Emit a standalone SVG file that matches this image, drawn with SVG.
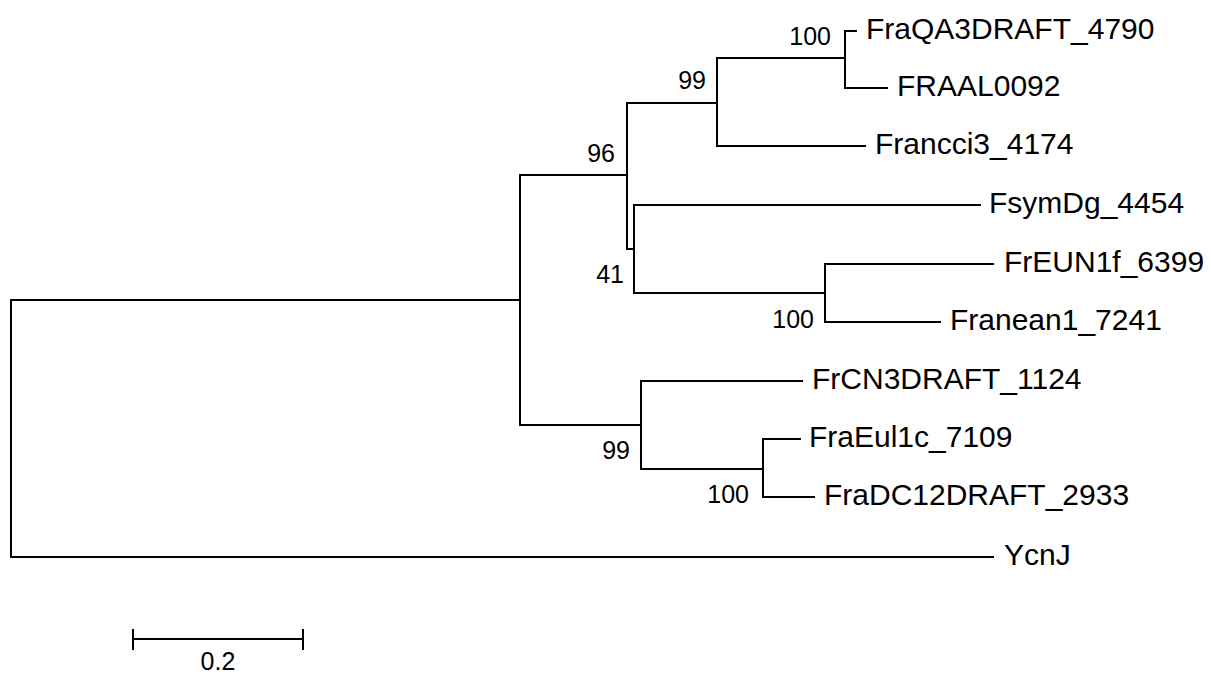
<svg xmlns="http://www.w3.org/2000/svg" width="1211" height="677" viewBox="0 0 1211 677">
<style>
.br{fill:none;stroke:#000;stroke-width:2;stroke-linecap:square}
.tx{font-family:"Liberation Sans",Arial,sans-serif;font-size:30px;fill:#000}
.bs{font-family:"Liberation Sans",Arial,sans-serif;font-size:25px;fill:#000;text-anchor:end}
.sc{font-family:"Liberation Sans",Arial,sans-serif;font-size:25px;fill:#000;text-anchor:middle}
</style>
<rect width="1211" height="677" fill="#fff"/>
<g id="connectors">
<path class="br" d="M520,300 H11 V557 H993"/>
<path class="br" d="M627,175 H520 V425 H641"/>
<path class="br" d="M717,103 H627 V249 H634"/>
<path class="br" d="M856,31 H845 V88 H887"/>
<path class="br" d="M845,58 H717 V146 H865"/>
<path class="br" d="M980,205 H634 V293 H825"/>
<path class="br" d="M993,264 H825 V322 H940"/>
<path class="br" d="M802,381 H641 V469 H763"/>
<path class="br" d="M800,439 H763 V497 H814"/>
</g>
<g id="leaf-FraQA3DRAFT_4790"><text class="tx" x="866" y="39">FraQA3DRAFT_4790</text></g>
<g id="leaf-FRAAL0092"><text class="tx" x="897" y="96">FRAAL0092</text></g>
<g id="leaf-Francci3_4174"><text class="tx" x="875" y="154">Francci3_4174</text></g>
<g id="leaf-FsymDg_4454"><text class="tx" x="989" y="213">FsymDg_4454</text></g>
<g id="leaf-FrEUN1f_6399"><text class="tx" x="1004" y="272">FrEUN1f_6399</text></g>
<g id="leaf-Franean1_7241"><text class="tx" x="950" y="330">Franean1_7241</text></g>
<g id="leaf-FrCN3DRAFT_1124"><text class="tx" x="812" y="389">FrCN3DRAFT_1124</text></g>
<g id="leaf-FraEul1c_7109"><text class="tx" x="809" y="447">FraEul1c_7109</text></g>
<g id="leaf-FraDC12DRAFT_2933"><text class="tx" x="824" y="505">FraDC12DRAFT_2933</text></g>
<g id="leaf-YcnJ"><text class="tx" x="1004" y="565">YcnJ</text></g>
<g id="node-100a"><text class="bs" x="831" y="45">100</text></g>
<g id="node-99a"><text class="bs" x="706" y="89">99</text></g>
<g id="node-96"><text class="bs" x="615" y="162">96</text></g>
<g id="node-41"><text class="bs" x="624" y="283">41</text></g>
<g id="node-100b"><text class="bs" x="814" y="328">100</text></g>
<g id="node-99b"><text class="bs" x="630" y="459">99</text></g>
<g id="node-100c"><text class="bs" x="749" y="503">100</text></g>
<g id="scale">
<path class="br" d="M133,639 H303 M133,629 V650 M303,629 V650" style="stroke-linecap:butt"/>
<text class="sc" x="218" y="670">0.2</text>
</g>
</svg>
